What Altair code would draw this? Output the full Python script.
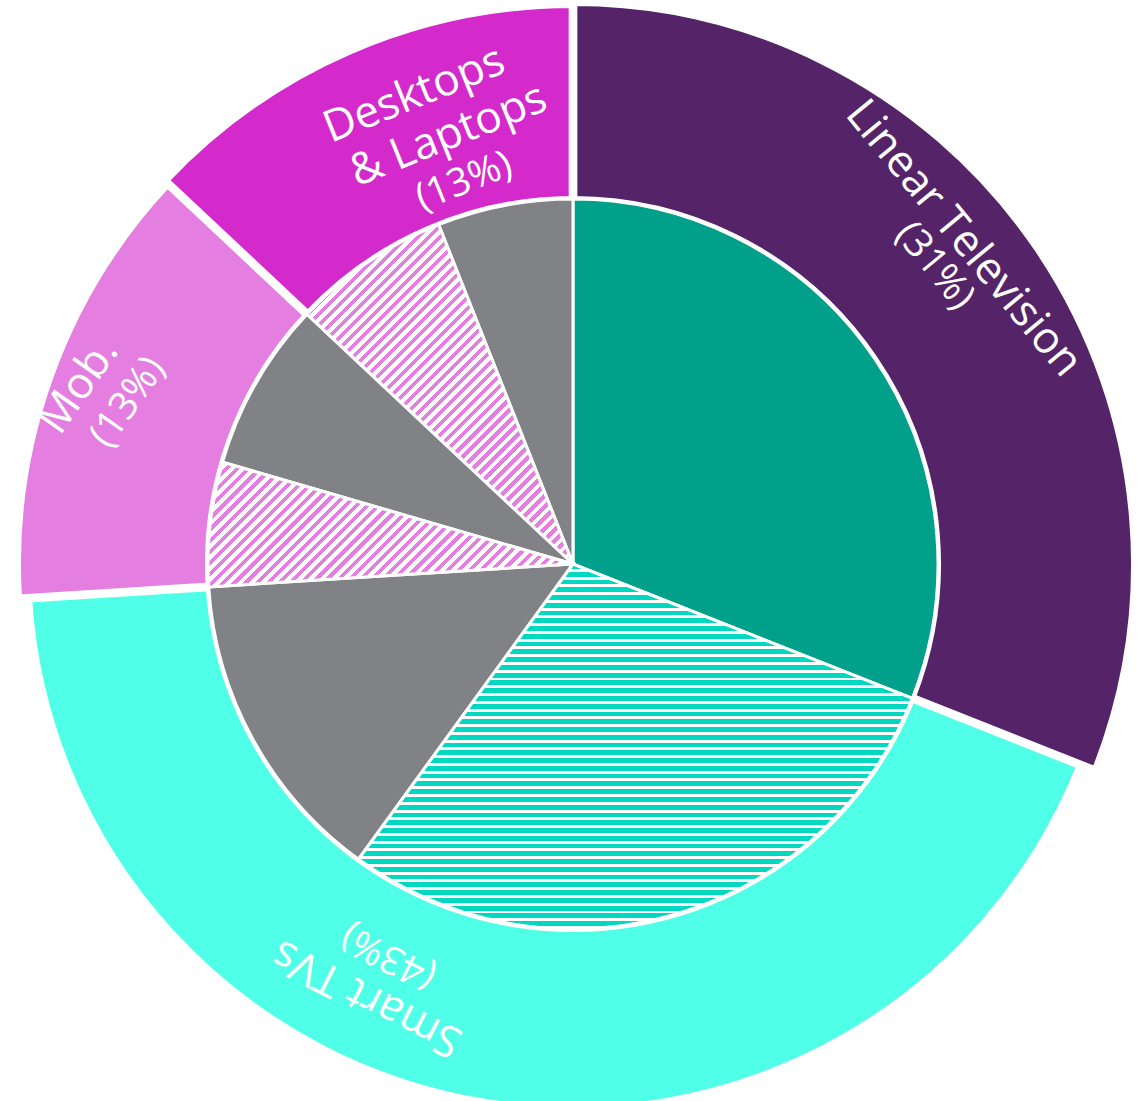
import math
import numpy as np
import pandas as pd
import altair as alt

# Outer ring: share of viewing by device
categories = ["Linear Television", "Smart TVs", "Mob.", "Desktops & Laptops"]
shares = [31, 43, 13, 13]

# Inner pie: each device split into sub-segments
inner_parent = ["Linear Television", "Smart TVs", "Smart TVs", "Mob.", "Mob.",
                "Desktops & Laptops", "Desktops & Laptops"]
inner_kind = ["solid", "hatched", "grey", "hatched", "grey", "hatched", "grey"]
inner_values = [31, 29, 14, 5.5, 7.5, 7, 6]

# Label text lines for each device
label_names = {
    "Linear Television": ["Linear Television"],
    "Smart TVs": ["Smart TVs"],
    "Mob.": ["Mob."],
    "Desktops & Laptops": ["Desktops", "& Laptops"],
}

# ---- styling -------------------------------------------------------------
W, H = 1145, 1101
CX, CY = 573, 564
R_PIE = 365
RING_STROKE = 6
ring_outer = {"Linear Television": 561, "Smart TVs": 545,
              "Mob.": 555, "Desktops & Laptops": 559}
ring_colors = ["#552367", "#50FFE8", "#E47EE0", "#D42ACC"]
TEAL = "#00A08A"
GREY = "#818286"
HATCH_COLOR = {"Smart TVs": "#00D9C0", "Mob.": "#E47EE0", "Desktops & Laptops": "#E47EE0"}
HATCH_HORIZONTAL = {"Smart TVs": True, "Mob.": False, "Desktops & Laptops": False}
PERIOD = 7.8
FONT = "Open Sans"
NAME_SIZE, PCT_SIZE = 44, 39

# per label line: (bearing offset from segment middle in degrees, radius, rotation)
name_layout = {
    "Linear Television": [(-5.6, 508, 50.5)],
    "Smart TVs": [(16.4, 480, 207)],
    "Mob.": [(0.0, 525, 305)],
    "Desktops & Laptops": [(4.7, 495, 338), (7.2, 446, 338)],
}
pct_layout = {
    "Linear Television": (-5.3, 469, 50.5),
    "Smart TVs": (16.2, 434, 207),
    "Mob.": (0.2, 474, 305),
    "Desktops & Laptops": (7.5, 398, 338),
}

# ---- tables --------------------------------------------------------------
ends = np.cumsum(shares)
outer_df = pd.DataFrame({"category": categories, "share": shares,
                         "start": ends - np.array(shares), "end": ends})

iends = np.cumsum(inner_values)
inner_df = pd.DataFrame({"seg": list(range(len(inner_values))), "parent": inner_parent,
                         "kind": inner_kind, "value": inner_values,
                         "start": iends - np.array(inner_values), "end": iends})

rows = []
for cat, s, e in zip(categories, outer_df["start"], outer_df["end"]):
    mid = (s + e) / 2
    for line, (off, r, rot) in zip(label_names[cat], name_layout[cat]):
        rows.append({"text": line, "theta": mid + off / 3.6, "r": r, "rot": rot, "size": NAME_SIZE})
    share = int(outer_df.loc[outer_df.category == cat, "share"].iloc[0])
    off, r, rot = pct_layout[cat]
    rows.append({"text": f"({share}%)", "theta": mid + off / 3.6, "r": r, "rot": rot, "size": PCT_SIZE})
label_df = pd.DataFrame(rows)

theta_scale = alt.Scale(domain=[0, 100], range=[0, 2 * math.pi])


def wedge_box(p0, p1, r):
    ang = np.radians(np.linspace(p0, p1, 1441) * 3.6)
    xs = np.append(r * np.sin(ang), 0.0)
    ys = np.append(-r * np.cos(ang), 0.0)
    return xs.max() - xs.min(), ys.max() - ys.min()


def stripe_gradient(color, p0, p1, horizontal, frac):
    w, h = wedge_box(p0, p1, R_PIE)
    if horizontal:
        x2, y2 = 0.0, 1.0
        n = int(round(h / PERIOD))
    else:
        a = (1 / h + 1 / w) / (1 / h ** 2 + 1 / w ** 2)
        x2, y2 = a / h, a / w
        n = int(round((w + h) / math.sqrt(2) / PERIOD))
    stops = []
    for i in range(n):
        o0, o1, o2 = round(i / n, 6), round((i + frac) / n, 6), round((i + 1) / n, 6)
        stops += [alt.GradientStop(color=color, offset=o0),
                  alt.GradientStop(color=color, offset=o1),
                  alt.GradientStop(color="white", offset=o1),
                  alt.GradientStop(color="white", offset=o2)]
    return alt.LinearGradient(gradient="linear", stops=stops, x1=0, y1=0, x2=x2, y2=y2)


center = dict(x=alt.value(CX), y=alt.value(CY))

radius_expr = " : ".join(
    f"datum.category === '{c}' ? {ring_outer[c]}" for c in categories[:-1]
) + f" : {ring_outer[categories[-1]]}"

ring = alt.Chart(outer_df).mark_arc(
    stroke="white", strokeWidth=RING_STROKE, padAngle=0.004
).transform_calculate(r_out=radius_expr).encode(
    theta=alt.Theta("start:Q", scale=theta_scale, stack=None),
    theta2="end:Q",
    radius=alt.Radius("r_out:Q", scale=None),
    radius2=alt.value(R_PIE),
    color=alt.Color("category:N", scale=alt.Scale(domain=categories, range=ring_colors), legend=None),
    **center,
)

solid = alt.Chart(inner_df).mark_arc(
    stroke="white", strokeWidth=3, outerRadius=R_PIE
).transform_filter("datum.kind !== 'hatched'").encode(
    theta=alt.Theta("start:Q", scale=theta_scale, stack=None),
    theta2="end:Q",
    color=alt.Color("kind:N", scale=alt.Scale(domain=["solid", "grey"], range=[TEAL, GREY]), legend=None),
    **center,
)

hatched_layers = []
for _, row in inner_df[inner_df.kind == "hatched"].iterrows():
    horizontal = HATCH_HORIZONTAL[row.parent]
    grad = stripe_gradient(HATCH_COLOR[row.parent], row.start, row.end,
                           horizontal, 0.62 if horizontal else 0.47)
    hatched_layers.append(
        alt.Chart(inner_df).mark_arc(
            fill=grad, stroke="white", strokeWidth=3, outerRadius=R_PIE
        ).transform_filter(f"datum.seg === {int(row.seg)}").encode(
            theta=alt.Theta("start:Q", scale=theta_scale, stack=None),
            theta2="end:Q",
            **center,
        )
    )

labels = alt.Chart(label_df).mark_text(
    font=FONT, color="white", align="center", baseline="middle"
).encode(
    text="text:N",
    theta=alt.Theta("theta:Q", scale=theta_scale, stack=None),
    radius=alt.Radius("r:Q", scale=None),
    angle=alt.Angle("rot:Q", scale=None),
    size=alt.Size("size:Q", scale=None),
    **center,
)

chart = alt.layer(ring, solid, *hatched_layers, labels).resolve_scale(
    color="independent"
).properties(
    width=W, height=H, padding=0, autosize="none", background="white"
).configure_view(stroke=None)

chart.save("out.html", embed_options={"renderer": "svg", "actions": False})
